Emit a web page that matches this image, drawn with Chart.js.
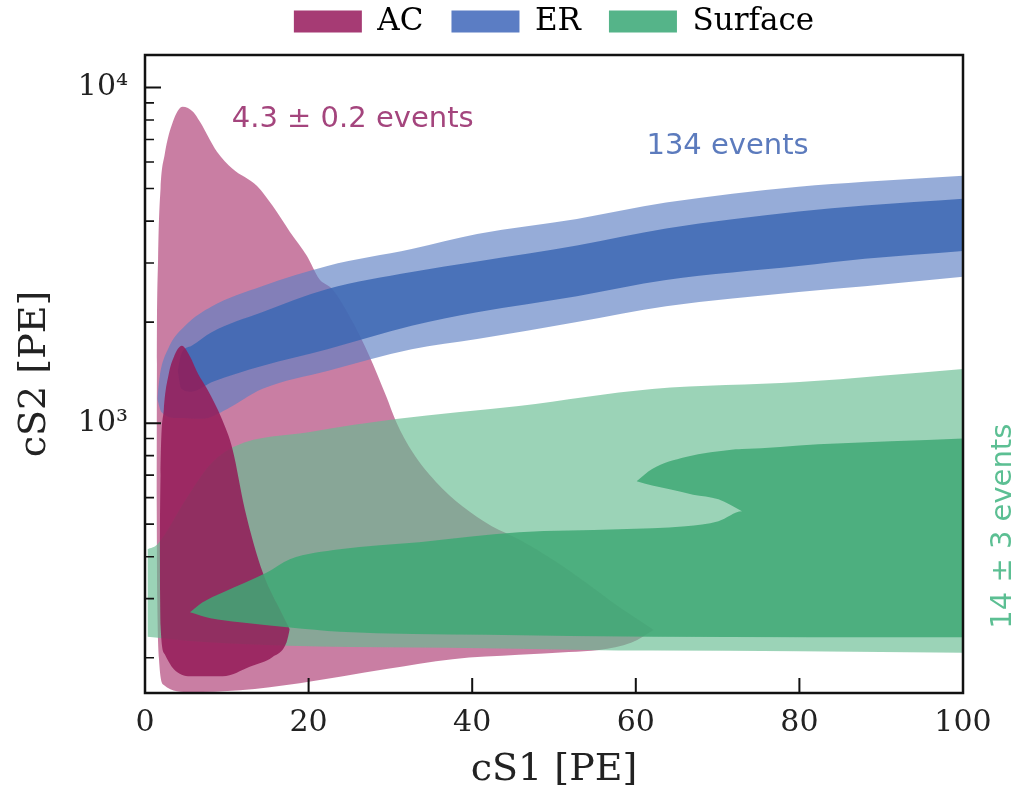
<!DOCTYPE html>
<html>
<head>
<meta charset="utf-8">
<title>cS1 / cS2 contours</title>
<script src="https://cdn.jsdelivr.net/npm/chart.js@4.4.1/dist/chart.umd.min.js"></script>
<style>
  html, body { margin: 0; padding: 0; background: #fff; }
  #wrap { width: 1022px; height: 793px; }
</style>
</head>
<body>
<div id="wrap"><canvas id="chart" width="1022" height="793"></canvas></div>
<script>
// contour edges, [cS1, cS2] pairs
const acOuterTop = [[1.4,600],[1.45,1500],[1.6,3100],[1.9,5000],[2.4,6300],[3.4,7900],[4.6,8770],[5.9,8460],[6.7,7920],[8.8,6440],[10.7,5730],[13.7,5090],[15.6,4440],[17.7,3720],[19.8,3150],[21.3,2690],[22.9,2510],[25.4,2000],[27.4,1590],[29.5,1200],[30.7,1010],[32.7,820],[35.6,667],[38.8,565],[42.4,493],[45.7,451],[49.8,393],[53.9,335],[57.9,284],[62.2,242]];
const acOuterBottom = [[1.4,600],[1.5,300],[1.7,200],[2.3,166],[5.5,158],[11.6,160],[18.9,168],[29.5,185],[37.6,198],[45.7,204],[51.8,208],[55.5,211],[59.5,222],[62.2,242]];
const acInnerTop = [[1.8,400],[1.9,700],[2.3,1100],[2.9,1400],[3.5,1570],[4.5,1700],[5.5,1580],[6.5,1400],[7.6,1263],[9.4,1028],[10.7,836],[12.2,554],[14.4,359],[16.8,269],[17.7,243]];
const acInnerBottom = [[1.8,400],[1.9,250],[2.4,205],[3.5,185],[5.5,176],[9.5,176],[12.8,188],[15.6,201],[17.3,222],[17.7,243]];

const erOuterTop = [[1.5,1180],[1.8,1380],[2.8,1660],[4.9,1950],[8.2,2230],[14.3,2560],[22.3,2940],[32.6,3300],[40.6,3660],[52.8,4060],[63.7,4540],[79.9,5060],[88,5240],[100,5460]];
const erOuterBottom = [[1.5,1180],[2.0,1080],[4.0,1035],[7.0,1030],[10.0,1100],[14.3,1263],[22.3,1430],[32.6,1660],[40.6,1780],[52.8,2000],[63.7,2230],[79.9,2460],[88,2560],[100,2730]];
const erInnerTop = [[4.0,1430],[4.4,1600],[5.7,1700],[8.2,1870],[14.3,2140],[22.3,2510],[32.6,2820],[40.6,3030],[52.8,3380],[63.7,3800],[79.9,4270],[88,4450],[100,4660]];
const erInnerBottom = [[4.0,1430],[4.4,1270],[5.7,1240],[8.2,1325],[14.3,1480],[22.3,1660],[32.6,1950],[40.6,2140],[52.8,2390],[63.7,2670],[79.9,2940],[88,3090],[100,3260]];

const surfOuterTop = [[0.3,421],[1.5,435],[5.0,593],[8.0,754],[11.0,854],[20,940],[30.7,1028],[45.7,1124],[62,1263],[80,1325],[100,1449]];
const surfOuterBottom = [[0.3,231],[6.7,223],[21.3,216],[37,214],[53.9,211],[62,210],[80,209],[100,207]];
// main dark band: lower lobe up to the notch tip, then the full height on the right
const surfInnerTop = [[5.5,273],[7,292],[9.5,313],[14.9,359],[17.7,393],[23.8,421],[33.5,442],[45.7,473],[57.9,483],[66.1,493],[70.1,510],[72.983,546],[72.983,838],[82.3,865],[100,900]];
const surfInnerBottom = [[5.5,273],[8,262],[11.6,255],[17.7,246],[23.8,239],[41.7,234],[62,231],[100,230]];
// upper lobe above the light notch
const surfLobeTop = [[60.1,671],[62,730],[66.1,792],[72.2,836],[72.983,838]];
const surfLobeBottom = [[60.1,671],[62,652],[64,636],[67,612],[70.1,593],[72.983,546]];

const legendLabels = ['AC', 'ER', 'Surface'];
const legendColors = ['#a63b74', '#5b7dc4', '#55b489'];

const xTickValues = [0, 20, 40, 60, 80, 100];
const yTickValues = [1000, 10000];
const yTickLabels = ['10³', '10⁴'];
const yMinorTicks = [200, 300, 400, 500, 600, 700, 800, 900, 2000, 3000, 4000, 5000, 6000, 7000, 8000, 9000];

const notes = [
  { text: '4.3 ± 0.2 events', x: 10.6, y: 8020, color: '#a4457d', align: 'left', rotate: 0 },
  { text: '134 events', x: 61.3, y: 6670, color: '#5c7bbd', align: 'left', rotate: 0 },
  { text: '14 ± 3 events', x: 104.9, y: 493, color: '#5cbf93', align: 'center', rotate: -Math.PI / 2 }
];

const toPts = arr => arr.map(([x, y]) => ({ x, y }));

// one filled band = invisible lower edge + upper edge filled down to it
function band(lower, upper, color, order) {
  const common = { xAxisID: 'x', yAxisID: 'y', pointRadius: 0, borderWidth: 0, order, cubicInterpolationMode: 'monotone' };
  return [
    { ...common, data: toPts(lower), fill: false },
    { ...common, data: toPts(upper), fill: '-1', backgroundColor: color }
  ];
}

const datasets = [
  ...band(acOuterBottom, acOuterTop, 'rgba(172,57,113,0.65)', 6),
  ...band(erOuterBottom, erOuterTop, 'rgba(93,127,195,0.65)', 5),
  ...band(erInnerBottom, erInnerTop, 'rgba(61,105,180,0.85)', 4),
  ...band(surfOuterBottom, surfOuterTop, 'rgba(101,187,144,0.65)', 3),
  ...band(acInnerBottom, acInnerTop, 'rgba(148,27,88,0.85)', 2),
  ...band(surfInnerBottom, surfInnerTop, 'rgba(63,169,118,0.85)', 1),
  ...band(surfLobeBottom, surfLobeTop, 'rgba(63,169,118,0.85)', 1)
];

// frame, inward ticks and the event-count notes
const framePlugin = {
  id: 'frame',
  afterDraw(chart) {
    const { ctx, chartArea: a, scales: { x, y } } = chart;
    ctx.save();
    ctx.strokeStyle = '#111';
    ctx.lineWidth = 2;
    ctx.beginPath();
    xTickValues.slice(1, -1).forEach(v => {
      const px = x.getPixelForValue(v);
      ctx.moveTo(px, a.bottom);
      ctx.lineTo(px, a.bottom - 15);
    });
    yTickValues.forEach(v => {
      const py = y.getPixelForValue(v);
      ctx.moveTo(a.left, py);
      ctx.lineTo(a.left + 16, py);
    });
    ctx.stroke();
    ctx.lineWidth = 1.6;
    ctx.beginPath();
    yMinorTicks.forEach(v => {
      const py = y.getPixelForValue(v);
      ctx.moveTo(a.left, py);
      ctx.lineTo(a.left + 9, py);
    });
    ctx.stroke();
    ctx.lineWidth = 2.5;
    ctx.strokeRect(a.left, a.top, a.right - a.left, a.bottom - a.top);

    ctx.font = '29px "DejaVu Sans"';
    ctx.textBaseline = 'middle';
    notes.forEach(n => {
      ctx.save();
      ctx.translate(x.getPixelForValue(n.x), y.getPixelForValue(n.y));
      ctx.rotate(n.rotate);
      ctx.textAlign = n.align;
      ctx.fillStyle = n.color;
      ctx.fillText(n.text, 0, 0);
      ctx.restore();
    });
    ctx.restore();
  }
};

const serif = 'DejaVu Serif';

new Chart(document.getElementById('chart'), {
  type: 'line',
  data: { datasets },
  options: {
    responsive: false,
    animation: false,
    devicePixelRatio: 1,
    layout: { padding: { top: -22, left: 0, right: 59, bottom: 0 } },
    plugins: {
      tooltip: { enabled: false },
      legend: {
        position: 'top',
        fullSize: false,
        labels: {
          font: { family: serif, size: 31 },
          color: '#222',
          boxWidth: 68,
          boxHeight: 22,
          padding: 28,
          generateLabels: () => legendLabels.map((t, i) => ({
            text: t,
            fillStyle: legendColors[i],
            strokeStyle: legendColors[i],
            lineWidth: 0,
            hidden: false,
            datasetIndex: i
          }))
        },
        onClick: null
      }
    },
    scales: {
      x: {
        type: 'linear',
        position: 'bottom',
        min: 0,
        max: 100,
        afterBuildTicks: s => { s.ticks = xTickValues.map(v => ({ value: v })); },
        grid: { display: false, drawTicks: false },
        border: { display: false },
        ticks: { font: { family: serif, size: 30 }, color: '#222', padding: 12, maxRotation: 0 },
        title: { display: true, text: 'cS1 [PE]', font: { family: serif, size: 38 }, color: '#222', padding: { top: 0, bottom: 0 } },
        afterFit: s => { s.height = 100; }
      },
      xTop: {
        type: 'linear',
        axis: 'x',
        position: 'top',
        min: 0,
        max: 100,
        grid: { display: false, drawTicks: false },
        border: { display: false },
        ticks: { display: false },
        afterFit: s => { s.height = 8; }
      },
      y: {
        type: 'logarithmic',
        min: 157,
        max: 12500,
        afterBuildTicks: s => { s.ticks = yTickValues.map(v => ({ value: v })); },
        grid: { display: false, drawTicks: false },
        border: { display: false },
        ticks: {
          font: { family: serif, size: 30 },
          color: '#222',
          padding: 17,
          callback: v => yTickLabels[yTickValues.indexOf(v)] || ''
        },
        title: { display: true, text: 'cS2 [PE]', font: { family: serif, size: 38 }, color: '#222', padding: { top: 12, bottom: 0 } },
        afterFit: s => { s.width = 145; }
      }
    }
  },
  plugins: [framePlugin]
});
</script>
</body>
</html>
